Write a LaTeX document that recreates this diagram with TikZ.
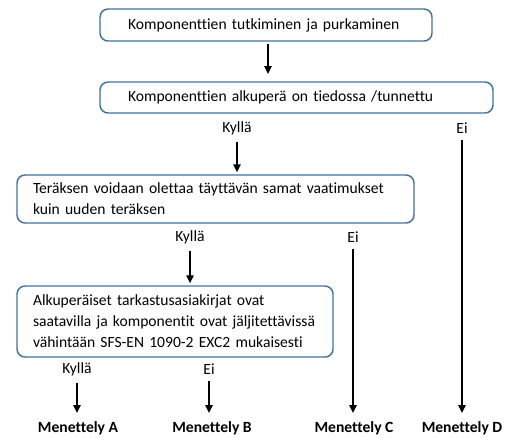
\documentclass[tikz,border=0pt]{standalone}
\usepackage{fontspec}
\setmainfont{Carlito}[Ligatures=NoCommon]
\usetikzlibrary{arrows.meta}

\definecolor{boxblue}{RGB}{65,113,156}

\tikzset{
  askbox/.style={rectangle, rounded corners=6pt, draw=boxblue, line width=1.1pt,
    align=left, inner ysep=0pt, font=\fontsize{11.7}{15.75}\selectfont},
  answer/.style={inner sep=1pt, font=\fontsize{11.7}{13}\selectfont},
  result/.style={inner sep=1pt, font=\fontsize{11.7}{13}\selectfont\bfseries},
  flow/.style={line width=1.2pt, -{Triangle[length=6pt,width=5.5pt]}}
}

\begin{document}
\begin{tikzpicture}[x=0.75pt, y=-0.75pt]
    \useasboundingbox (0,0) rectangle (513,437);

    % laatikot
    \node[askbox, text width=207pt, inner xsep=21pt, minimum height=24pt] (b1) at (266,25) {Komponenttien tutkiminen ja purkaminen};
    \node[askbox, text width=252.75pt, inner xsep=21pt, minimum height=23.25pt] (b2) at (296.5,97.5) {Komponenttien alkuperä on tiedossa /tunnettu};
    \node[askbox, text width=273.75pt, inner xsep=12pt, minimum height=36pt] (b3) at (215.5,199) {Teräksen voidaan olettaa täyttävän samat vaatimukset\\kuin uuden teräksen};
    \node[askbox, text width=213pt, inner xsep=12pt, minimum height=53.25pt] (b4) at (175,321.5) {Alkuperäiset tarkastusasiakirjat ovat\\saatavilla ja komponentit ovat jäljitettävissä\\vähintään SFS-EN 1090-2 EXC2 mukaisesti};

    % vastaukset
    \node[answer] (k1) at (237,128) {Kyllä};
    \node[answer] (e1) at (462,128) {Ei};
    \node[answer] (k2) at (190,237) {Kyllä};
    \node[answer] (e2) at (353,237) {Ei};
    \node[answer] (k3) at (77,369) {Kyllä};
    \node[answer] (e3) at (209,369) {Ei};

    % menettelyt
    \node[result] (mA) at (78,428) {Menettely A};
    \node[result] (mB) at (212,428) {Menettely B};
    \node[result] (mC) at (354,428) {Menettely C};
    \node[result] (mD) at (462,428) {Menettely D};

    % nuolet
    \draw[flow, shorten <=2pt, shorten >=6pt] (268,41) -- (268,82);
    \draw[flow, shorten <=4pt, shorten >=1.5pt] (k1.south) -- (k1.south |- b3.north);
    \draw[flow, shorten <=4pt, shorten >=5pt] (e1.south) -- (e1.south |- mD.north);
    \draw[flow, shorten <=4pt, shorten >=1.5pt] (k2.south) -- (k2.south |- b4.north);
    \draw[flow, shorten <=4pt, shorten >=5pt] (e2.south) -- (e2.south |- mC.north);
    \draw[flow, shorten <=4pt, shorten >=5pt] (k3.south) -- (k3.south |- mA.north);
    \draw[flow, shorten <=4pt, shorten >=5pt] (e3.south) -- (e3.south |- mB.north);
\end{tikzpicture}
\end{document}
